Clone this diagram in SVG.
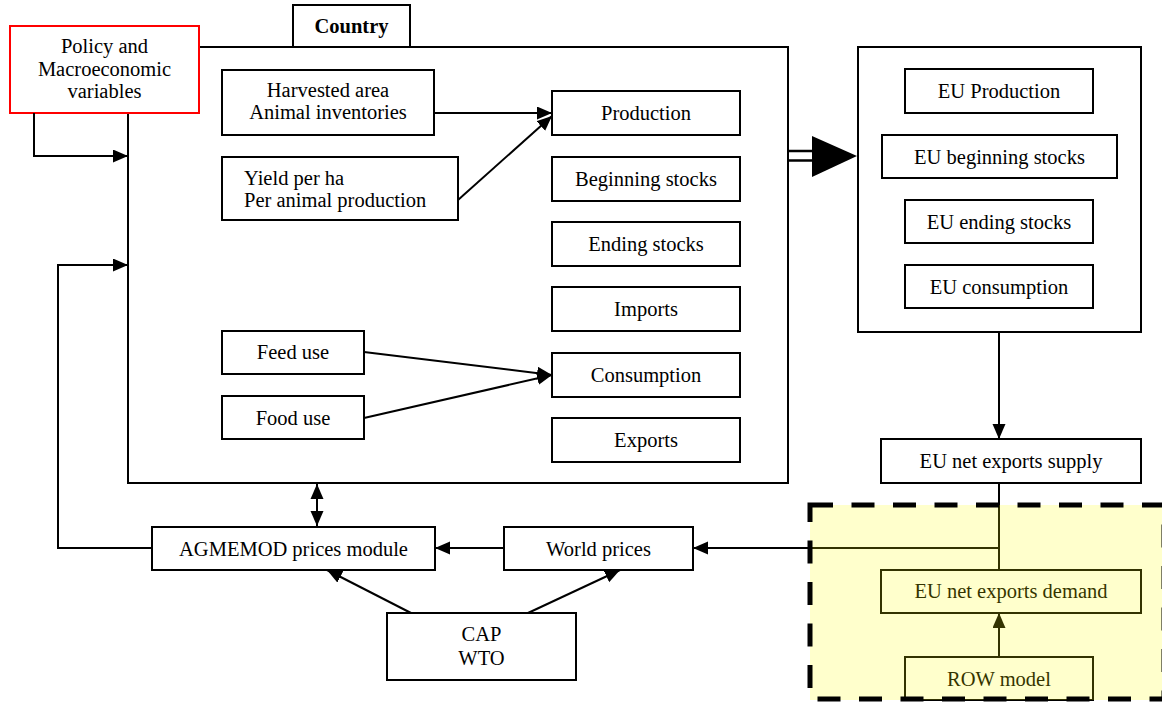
<svg xmlns="http://www.w3.org/2000/svg" width="1162" height="704" viewBox="0 0 1162 704">
<defs>
<marker id="ah" markerUnits="userSpaceOnUse" markerWidth="16" markerHeight="14" refX="15" refY="6.5" orient="auto"><path d="M0,0 L15,6.5 L0,13 z" fill="#000"/></marker>
<marker id="ahs" markerUnits="userSpaceOnUse" markerWidth="16" markerHeight="14" refX="0" refY="6.5" orient="auto"><path d="M15,0 L0,6.5 L15,13 z" fill="#000"/></marker>
<style>
.b{fill:#fff;stroke:#000;stroke-width:2}
.n{fill:none;stroke:#000;stroke-width:2}
.t{font-family:"Liberation Serif","Times New Roman",serif;font-size:20.5px;fill:#000;text-anchor:middle}
.l{text-anchor:start}
.c{fill:none;stroke:#000;stroke-width:2}
</style>
</defs>
<rect width="1162" height="704" fill="#fff"/>

<g id="country">
<rect class="b" x="128" y="47" width="660" height="436"/>
<rect class="b" x="293" y="5" width="117" height="42"/>
<text class="t" x="351.5" y="33" font-weight="bold">Country</text>
</g>

<g id="policy">
<rect x="10" y="26" width="189" height="87" fill="#fff" stroke="#ff0000" stroke-width="2"/>
<text class="t" x="104.5" y="53">Policy and</text>
<text class="t" x="104.5" y="76">Macroeconomic</text>
<text class="t" x="104.5" y="98">variables</text>
</g>

<g id="harvested">
<rect class="b" x="222" y="70" width="212" height="65"/>
<text class="t" x="328" y="97">Harvested area</text>
<text class="t" x="328" y="119">Animal inventories</text>
</g>
<g id="yield">
<rect class="b" x="222" y="157" width="236" height="63"/>
<text class="t l" x="244" y="185">Yield per ha</text>
<text class="t l" x="244" y="207">Per animal production</text>
</g>
<g id="feed">
<rect class="b" x="222" y="331" width="142" height="43"/>
<text class="t" x="293" y="359">Feed use</text>
</g>
<g id="food">
<rect class="b" x="222" y="396" width="142" height="43"/>
<text class="t" x="293" y="425">Food use</text>
</g>

<g id="production"><rect class="b" x="552" y="91" width="188" height="44"/><text class="t" x="646" y="120">Production</text></g>
<g id="beginning"><rect class="b" x="552" y="157" width="188" height="44"/><text class="t" x="646" y="186">Beginning stocks</text></g>
<g id="ending"><rect class="b" x="552" y="222" width="188" height="44"/><text class="t" x="646" y="251">Ending stocks</text></g>
<g id="imports"><rect class="b" x="552" y="287" width="188" height="44"/><text class="t" x="646" y="316">Imports</text></g>
<g id="consumption"><rect class="b" x="552" y="353" width="188" height="44"/><text class="t" x="646" y="382">Consumption</text></g>
<g id="exports"><rect class="b" x="552" y="418" width="188" height="44"/><text class="t" x="646" y="447">Exports</text></g>

<g id="eu">
<rect class="b" x="858" y="47" width="283" height="285"/>
</g>
<g id="eu-production"><rect class="b" x="905" y="69" width="188" height="44"/><text class="t" x="999" y="98">EU Production</text></g>
<g id="eu-beginning"><rect class="b" x="882" y="135" width="235" height="43"/><text class="t" x="999.5" y="164">EU beginning stocks</text></g>
<g id="eu-ending"><rect class="b" x="905" y="200" width="188" height="43"/><text class="t" x="999" y="229">EU ending stocks</text></g>
<g id="eu-consumption"><rect class="b" x="905" y="265" width="188" height="43"/><text class="t" x="999" y="294">EU consumption</text></g>

<g id="eu-supply"><rect class="b" x="881" y="439" width="260" height="44"/><text class="t" x="1011" y="468">EU net exports supply</text></g>

<g id="agmemod"><rect class="b" x="152" y="527" width="283" height="43"/><text class="t" x="293.5" y="556">AGMEMOD prices module</text></g>
<g id="world"><rect class="b" x="504" y="527" width="189" height="43"/><text class="t" x="598.5" y="556">World prices</text></g>
<g id="cap"><rect class="b" x="387" y="613" width="189" height="67"/><text class="t" x="481.5" y="641">CAP</text><text class="t" x="481.5" y="665">WTO</text></g>

<g id="eu-demand"><rect class="b" x="881" y="570" width="260" height="43"/><text class="t" x="1011" y="598">EU net exports demand</text></g>
<g id="row"><rect class="b" x="905" y="657" width="188" height="43"/><text class="t" x="999" y="686">ROW model</text></g>

<g id="connectors">
<path class="c" d="M34,113 V156 H128" marker-end="url(#ah)"/>
<path class="c" d="M152,548 H58 V265 H128" marker-end="url(#ah)"/>
<path class="c" d="M434,113 H552" marker-end="url(#ah)"/>
<path class="c" d="M458,200 L552,116" marker-end="url(#ah)"/>
<path class="c" d="M364,352 L552,375" marker-end="url(#ah)"/>
<path class="c" d="M364,418 L552,375" marker-end="url(#ah)"/>
<path class="c" d="M317,484 V526" marker-start="url(#ahs)" marker-end="url(#ah)"/>
<path d="M789,151 H813 M789,160.5 H813" stroke="#000" stroke-width="2.6" fill="none"/>
<path d="M812,136 L857,156 L812,177 z" fill="#000"/>
<path class="c" d="M999,332 V439" marker-end="url(#ah)"/>
<path class="c" d="M999,483 V570"/>
<path class="c" d="M999,548 H693" marker-end="url(#ah)"/>
<path class="c" d="M504,548 H435" marker-end="url(#ah)"/>
<path class="c" d="M411,613 L327,570" marker-end="url(#ah)"/>
<path class="c" d="M528,613 L620,570" marker-end="url(#ah)"/>
<path class="c" d="M999,657 V613" marker-end="url(#ah)"/>
</g>

<g id="row-region">
<rect x="810" y="505" width="354" height="195" fill="#ffff00" fill-opacity="0.2"/>
<rect x="810" y="505" width="354" height="194" fill="none" stroke="#000" stroke-width="5" stroke-dasharray="23 18.5"/>
</g>
</svg>
